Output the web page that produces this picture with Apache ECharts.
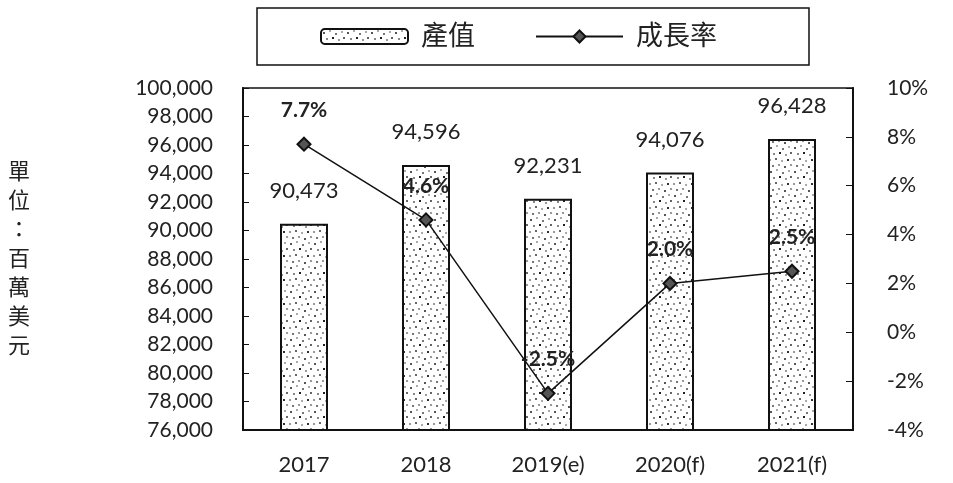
<!DOCTYPE html>
<html>
<head>
<meta charset="utf-8">
<script src="https://cdn.jsdelivr.net/npm/echarts@6/dist/echarts.min.js"></script>
<style>
  html, body { margin: 0; padding: 0; background: #fff; }
  #chart { width: 953px; height: 483px; }
</style>
</head>
<body>
<div id="chart"></div>
<script>
// chart data
const years = ['2017', '2018', '2019(e)', '2020(f)', '2021(f)']
const outputValues = [90473, 94596, 92231, 94076, 96428]
const growthRates = [7.7, 4.6, -2.5, 2.0, 2.5]

const FONT = "Lato, 'Open Sans', 'Noto Sans CJK TC', sans-serif"

// stippled fill for the bars
const makeDots = () => {
  const c = document.createElement('canvas')
  c.width = 24
  c.height = 24
  const ctx = c.getContext('2d')
  ctx.fillStyle = '#fff'
  ctx.fillRect(0, 0, 24, 24)
  const dots = [
    [2, 3, '#555'], [8, 1, '#aaa'], [14, 4, '#777'], [20, 2, '#aaa'],
    [5, 9, '#888'], [11, 8, '#222'], [17, 10, '#999'], [22, 8, '#666'],
    [1, 15, '#999'], [7, 14, '#666'], [13, 16, '#aaa'], [19, 15, '#333'],
    [4, 21, '#777'], [10, 20, '#999'], [16, 22, '#555'], [22, 20, '#999']
  ]
  dots.forEach(([x, y, col]) => {
    ctx.fillStyle = col
    ctx.fillRect(x, y, 2, 2)
  })
  return c
}
const dotPattern = { image: makeDots(), repeat: 'repeat' }

const chart = echarts.init(document.getElementById('chart'))

const option = {
  backgroundColor: '#fff',
  textStyle: { fontFamily: FONT, color: '#222' },
  legend: {
    left: 257,
    top: 8,
    padding: [15, 92, 15, 63],
    borderColor: '#111',
    borderWidth: 1.5,
    itemGap: 60,
    itemWidth: 87,
    itemHeight: 15,
    textStyle: { fontSize: 27, color: '#222', fontFamily: FONT, padding: [0, 0, 0, 8] },
    data: [
      { name: '產值', itemStyle: { color: dotPattern, borderColor: '#111', borderWidth: 2 } },
      { name: '成長率' }
    ]
  },
  grid: {
    left: 243,
    right: 100,
    top: 88,
    bottom: 53,
    show: true,
    borderColor: '#111',
    borderWidth: 1.5
  },
  xAxis: {
    type: 'category',
    data: years,
    axisLine: { onZero: false, lineStyle: { color: '#111', width: 2 } },
    axisTick: { inside: true, length: 5, lineStyle: { color: '#111' } },
    axisLabel: { fontSize: 22, color: '#222', margin: 24, fontFamily: FONT }
  },
  yAxis: [
    {
      type: 'value',
      min: 76000,
      max: 100000,
      interval: 2000,
      name: '單\n位\n：\n百\n萬\n美\n元',
      nameLocation: 'middle',
      nameRotate: 0,
      nameGap: 213,
      nameTextStyle: { fontSize: 22, lineHeight: 29, color: '#222', fontFamily: FONT, padding: [0, 0, 28, 0] },
      axisLine: { show: true, onZero: false, lineStyle: { color: '#111', width: 2 } },
      axisTick: { show: true, inside: true, length: 6, lineStyle: { color: '#111' } },
      axisLabel: {
        fontSize: 21,
        color: '#222',
        margin: 30,
        fontFamily: FONT,
        formatter: v => v.toLocaleString('en-US')
      },
      splitLine: { show: false }
    },
    {
      type: 'value',
      min: -4,
      max: 10,
      interval: 2,
      axisLine: { show: true, onZero: false, lineStyle: { color: '#111', width: 2 } },
      axisTick: { show: true, inside: true, length: 7, lineStyle: { color: '#111' } },
      axisLabel: { fontSize: 21, color: '#222', margin: 34, fontFamily: FONT, formatter: '{value}%' },
      splitLine: { show: false }
    }
  ],
  series: [
    {
      name: '產值',
      type: 'bar',
      data: outputValues,
      barWidth: 48,
      itemStyle: { color: dotPattern, borderColor: '#111', borderWidth: 2 },
      label: {
        show: true,
        position: 'top',
        distance: 22,
        fontSize: 22,
        color: '#222',
        fontFamily: FONT,
        formatter: p => p.value.toLocaleString('en-US')
      }
    },
    {
      name: '成長率',
      type: 'line',
      yAxisIndex: 1,
      data: growthRates,
      symbol: 'diamond',
      symbolSize: 13,
      lineStyle: { color: '#111', width: 1.5 },
      itemStyle: { color: '#555', borderColor: '#111', borderWidth: 2 },
      label: {
        show: true,
        position: 'top',
        distance: 16,
        fontSize: 21,
        fontWeight: 'bold',
        color: '#222',
        fontFamily: FONT,
        formatter: p => p.value.toFixed(1) + '%'
      }
    }
  ]
}

chart.setOption(option)
</script>
</body>
</html>
